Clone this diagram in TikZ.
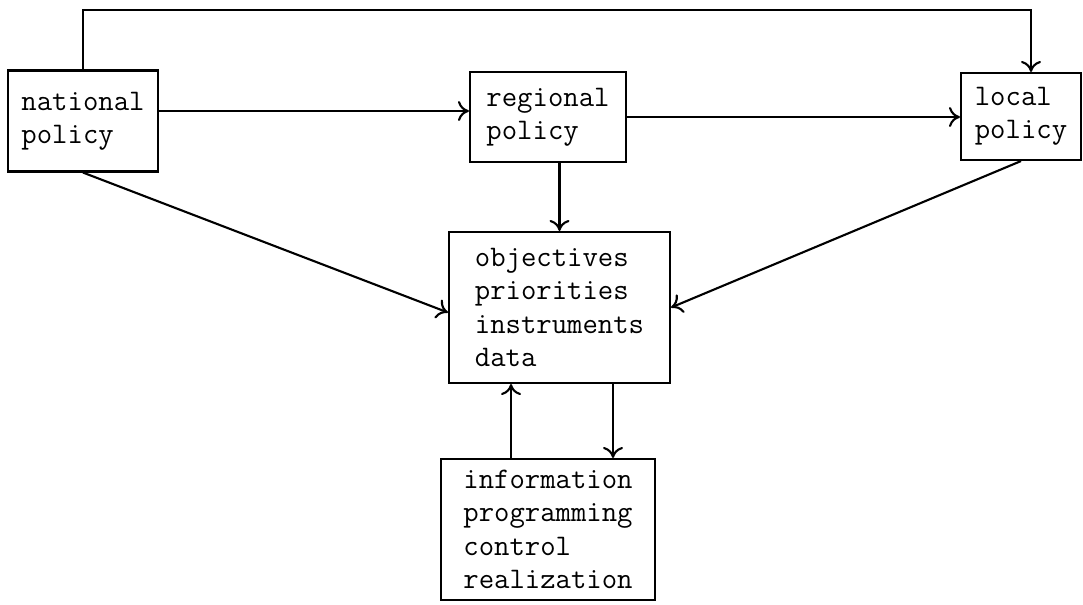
\documentclass[tikz,border=0pt]{standalone}
\usepackage{amsmath}
\usepackage{tikz}
\usetikzlibrary{arrows.meta}

\tikzset{
  blok/.style={draw, line width=1.2pt, align=left, inner sep=0pt,
    font=\ttfamily\fontsize{17}{19}\selectfont}
}

\begin{document}
\begin{tikzpicture}[line width=1.2pt, >={To[length=2.2mm,width=4mm]}]
%%Location
\useasboundingbox (0,0) rectangle (21.66,12.08);
%%Boxes
\node[blok, minimum width=3.0cm, minimum height=2.02cm] (nat) at (1.66,9.66) {national\\policy\phantom{xx}};
\node[blok, minimum width=3.12cm, minimum height=1.80cm] (reg) at (10.96,9.74) {regional\\policy\phantom{xx}};
\node[blok, minimum width=2.40cm, minimum height=1.74cm] (loc) at (20.42,9.75) {local\phantom{x}\\policy};
\node[blok, minimum width=4.42cm, minimum height=3.02cm] (obj) at (11.19,5.93) {objectives\\priorities\\instruments\\data\phantom{xxxxxxx}};
\node[blok, minimum width=4.28cm, minimum height=2.82cm] (inf) at (10.96,1.49) {information\\programming\\control\phantom{xxxx}\\realization};
\coordinate (topline) at (0,11.88);
%%Top level
\draw[->] (nat.north) -- (nat.north |- topline) -| ([xshift=0.2cm]loc.north);
\draw[->] ([yshift=0.2cm]nat.east) -- ([yshift=0.2cm]nat.east -| reg.west);
\draw[->] (reg.east) -- (reg.east -| loc.west);
%%Into the centre
\draw[->] (obj.north |- reg.south) -- (obj.north);
\draw[->] (nat.south) -- ([yshift=-0.1cm]obj.west);
\draw[->] (loc.south) -- (obj.east);
%%Feedback
\draw[->] ([xshift=-0.74cm]inf.north) -- ([xshift=-0.74cm]inf.north |- obj.south);
\draw[->] ([xshift=1.3cm]inf.north |- obj.south) -- ([xshift=1.3cm]inf.north);

\end{tikzpicture}
\end{document}
